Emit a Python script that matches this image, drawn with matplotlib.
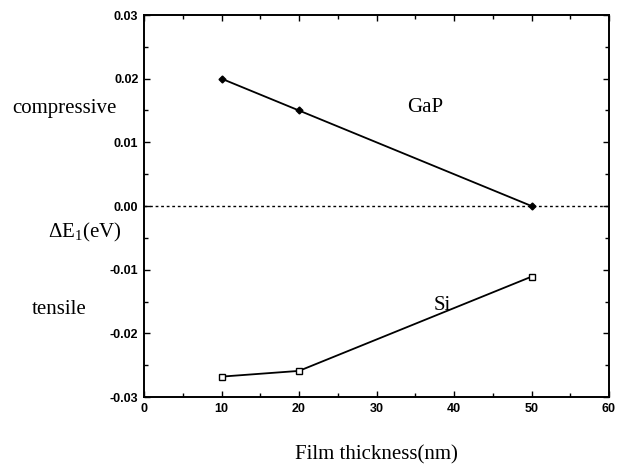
import matplotlib.pyplot as plt
from matplotlib.ticker import MultipleLocator

plt.rcParams['mathtext.fontset'] = 'custom'
plt.rcParams['mathtext.rm'] = 'Liberation Serif'
plt.rcParams['mathtext.it'] = 'Liberation Serif:italic'

# data
thickness = [10, 20, 50]
gap_shift = [0.020, 0.015, 0.000]
si_shift = [-0.0268, -0.0259, -0.0111]

xticks = [0, 10, 20, 30, 40, 50, 60]
yticks = [-0.03, -0.02, -0.01, 0.00, 0.01, 0.02, 0.03]
ytick_labels = ['-0.03', '-0.02', '-0.01', '0.00', '0.01', '0.02', '0.03']

serif = ['Liberation Serif', 'DejaVu Serif']
sans = ['Liberation Sans', 'DejaVu Sans']

fig = plt.figure(figsize=(6.25, 4.69), dpi=100)
ax = fig.add_axes([144 / 625, 1 - 397 / 469, 465 / 625, 382 / 469])

ax.plot(thickness, gap_shift, color='black', linewidth=1.3,
        marker='D', markersize=3.5, markerfacecolor='black')
ax.plot(thickness, si_shift, color='black', linewidth=1.3,
        marker='s', markersize=5, markerfacecolor='white', markeredgewidth=1.0)
ax.axhline(0, color='black', linestyle=(0, (2, 2)), linewidth=1.0)

ax.set_xlim(0, 60)
ax.set_ylim(-0.03, 0.03)
ax.set_xticks(xticks)
ax.set_xticklabels([str(v) for v in xticks], fontfamily=sans, fontweight='bold', fontsize=9)
ax.set_yticks(yticks)
ax.set_yticklabels(ytick_labels, fontfamily=sans, fontweight='bold', fontsize=9)
ax.xaxis.set_minor_locator(MultipleLocator(5))
ax.yaxis.set_minor_locator(MultipleLocator(0.005))
ax.tick_params(which='both', direction='in', top=True, right=True, width=1.0)
ax.tick_params(which='major', length=4, pad=4)
ax.tick_params(which='minor', length=3)
for s in ax.spines.values():
    s.set_linewidth(1.4)

ax.text(36.3, 0.0155, 'GaP', fontfamily=serif, fontsize=15, ha='center', va='center')
ax.text(38.5, -0.0157, 'Si', fontfamily=serif, fontsize=15, ha='center', va='center')

fig.text(12 / 625, 1 - 108 / 469, 'compressive', fontfamily=serif, fontsize=15, va='center')
fig.text(85 / 625, 1 - 232 / 469, r'$\Delta\mathrm{E}_{1}\mathrm{(eV)}$', fontsize=15,
         ha='center', va='center')
fig.text(32 / 625, 1 - 309 / 469, 'tensile', fontfamily=serif, fontsize=15, va='center')
fig.text(376 / 625, 1 - 455 / 469, 'Film thickness(nm)', fontfamily=serif, fontsize=15,
         ha='center', va='center')

fig.savefig('out.png', dpi=100)
